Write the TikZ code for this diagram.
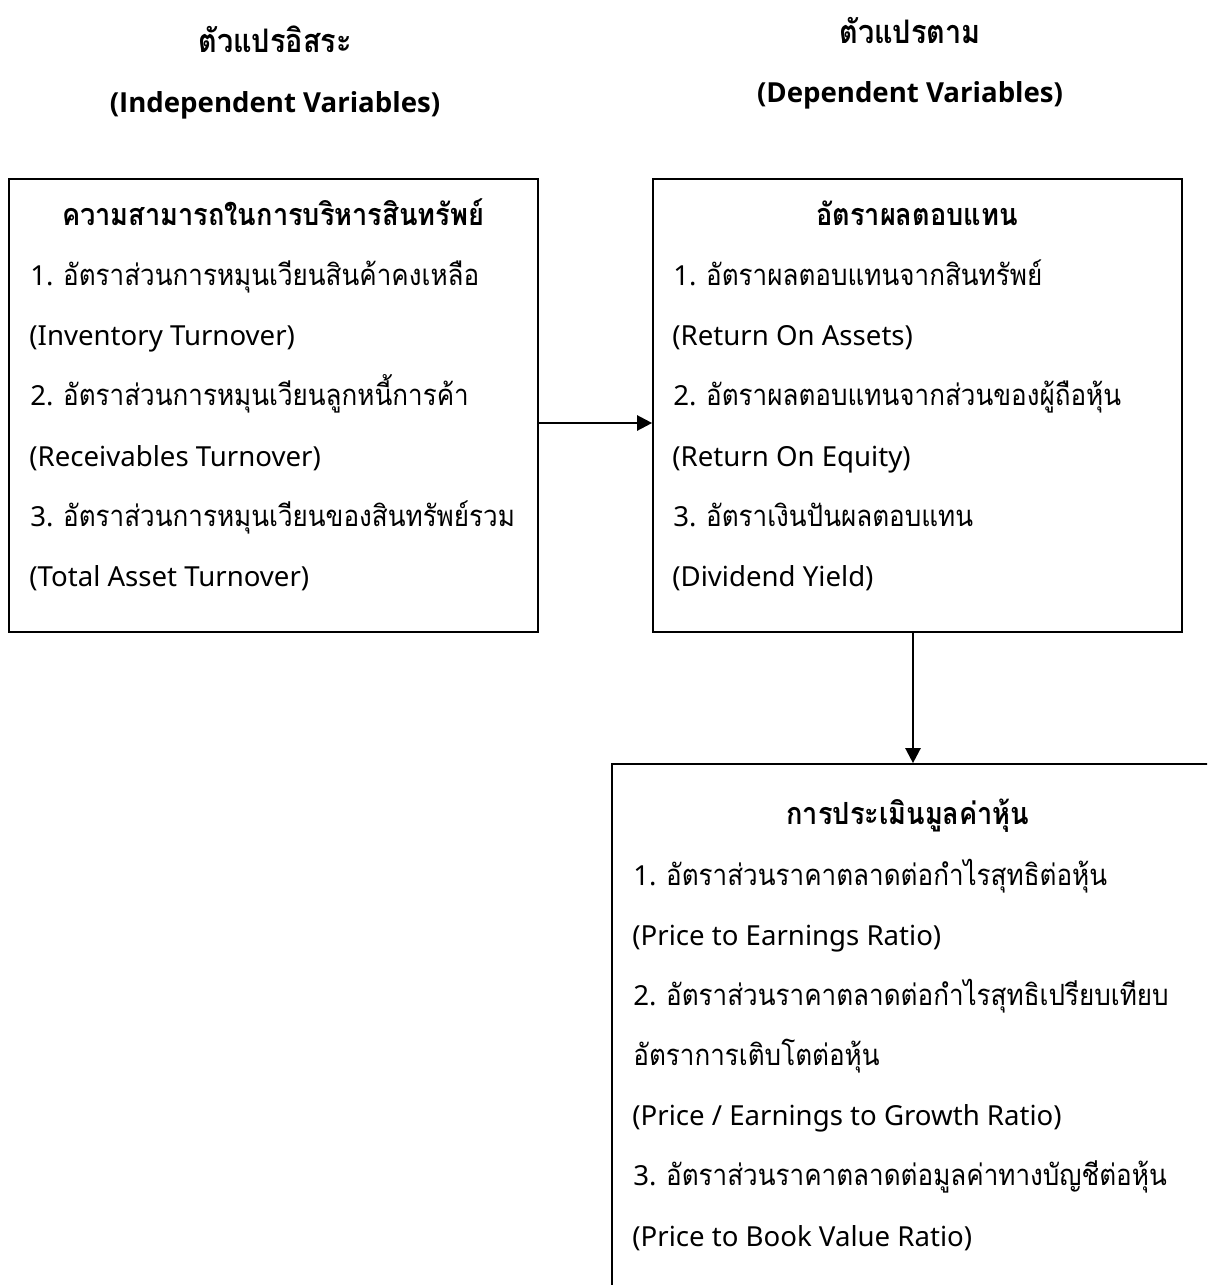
\documentclass[tikz,border=0pt]{standalone}
\usepackage{fontspec}
\setmainfont{Noto Sans}
\newfontfamily\thai[Script=Thai,Scale=1.06,FakeStretch=0.89]{Loma}
\newfontfamily\hdrlat{Open Sans}
\usetikzlibrary{arrows.meta,fit}
\begin{document}
\begin{tikzpicture}[x=0.5pt,y=-0.5pt,
  txt/.style={anchor=base west,inner sep=0pt,font=\fontsize{13.8}{16}\selectfont},
  ttl/.style={anchor=base,inner sep=0pt,font=\fontsize{14.4}{16}\selectfont\bfseries},
  hth/.style={anchor=base,inner sep=0pt,font=\fontsize{15.3}{16}\selectfont\bfseries},
  hdr/.style={anchor=base,inner sep=0pt,font=\hdrlat\fontsize{13.8}{16}\selectfont\bfseries},
  box/.style={draw,line width=0.85pt,inner sep=0pt},
  arr/.style={line width=1.2pt,-{Triangle[length=7.5pt,width=7.5pt]}}]
\useasboundingbox (0,0) rectangle (1207,1285);
\clip (0,0) rectangle (1207,1285);
% headers
\node[hth] (h1) at (275,53) {\thai ตัวแปรอิสระ};
\node[hdr] (h1e) at (275,112) {(Independent Variables)};
\node[hth] (h2) at (910,43) {\thai ตัวแปรตาม};
\node[hdr] (h2e) at (910,102) {(Dependent Variables)};
% boxes
\coordinate (a1) at (9,179); \coordinate (a2) at (538,632);
\coordinate (b1) at (653,179); \coordinate (b2) at (1182,632);
\coordinate (c1) at (612,764); \coordinate (c2) at (1240,1320);
\node[box,fit=(a1)(a2)] (box1) {};
\node[box,fit=(b1)(b2)] (box2) {};
\node[box,fit=(c1)(c2)] (box3) {};
% box1 text
\node[ttl] (t1) at (273,225) {\thai ความสามารถในการบริหารสินทรัพย์};
\node[txt] (t1a) at (30,285) {1. {\thai อัตราส่วนการหมุนเวียนสินค้าคงเหลือ}};
\node[txt] (t1b) at (29,345) {(Inventory Turnover)};
\node[txt] (t1c) at (30,405) {2. {\thai อัตราส่วนการหมุนเวียนลูกหนี้การค้า}};
\node[txt] (t1d) at (29,466) {(Receivables Turnover)};
\node[txt] (t1e) at (30,526) {3. {\thai อัตราส่วนการหมุนเวียนของสินทรัพย์รวม}};
\node[txt] (t1f) at (29,586) {(Total Asset Turnover)};
% box2 text
\node[ttl] (t2) at (917,225) {\thai อัตราผลตอบแทน};
\node[txt] (t2a) at (673,285) {1. {\thai อัตราผลตอบแทนจากสินทรัพย์}};
\node[txt] (t2b) at (672,345) {(Return On Assets)};
\node[txt] (t2c) at (673,405) {2. {\thai อัตราผลตอบแทนจากส่วนของผู้ถือหุ้น}};
\node[txt] (t2d) at (672,466) {(Return On Equity)};
\node[txt] (t2e) at (673,526) {3. {\thai อัตราเงินปันผลตอบแทน}};
\node[txt] (t2f) at (672,586) {(Dividend Yield)};
% box3 text
\node[ttl] (t3) at (908,824) {\thai การประเมินมูลค่าหุ้น};
\node[txt] (t3a) at (633,885) {1. {\thai อัตราส่วนราคาตลาดต่อกำไรสุทธิต่อหุ้น}};
\node[txt] (t3b) at (632,945) {(Price to Earnings Ratio)};
\node[txt] (t3c) at (633,1005) {2. {\thai อัตราส่วนราคาตลาดต่อกำไรสุทธิเปรียบเทียบ}};
\node[txt] (t3d) at (633,1065) {\thai อัตราการเติบโตต่อหุ้น};
\node[txt] (t3e) at (632,1125) {(Price / Earnings to Growth Ratio)};
\node[txt] (t3f) at (633,1185) {3. {\thai อัตราส่วนราคาตลาดต่อมูลค่าทางบัญชีต่อหุ้น}};
\node[txt] (t3g) at (632,1246) {(Price to Book Value Ratio)};
% connectors
\coordinate (p1) at (538,423);
\draw[arr] (box1.east |- p1) -- (box2.west |- p1);
\coordinate (p2) at (913,700);
\draw[arr] (box2.south -| p2) -- (box3.north -| p2);
\end{tikzpicture}
\end{document}
